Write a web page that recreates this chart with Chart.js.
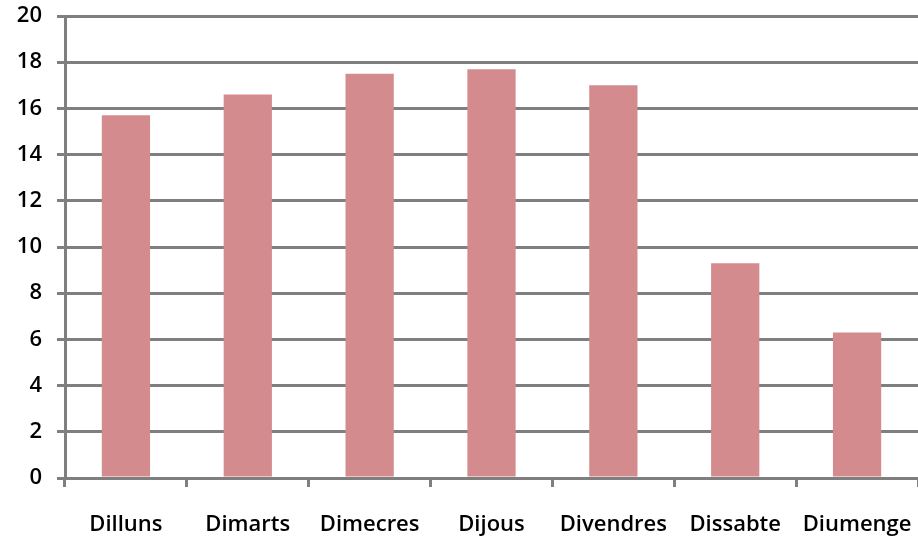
<!DOCTYPE html>
<html>
<head>
<meta charset="utf-8">
<script src="https://cdn.jsdelivr.net/npm/chart.js@4"></script>
<style>
  html, body { margin: 0; padding: 0; background: #fff; }
  #wrap { width: 918px; height: 542px; }
</style>
</head>
<body>
<div id="wrap"><canvas id="chart"></canvas></div>
<script>
const days = ["Dilluns", "Dimarts", "Dimecres", "Dijous", "Divendres", "Dissabte", "Diumenge"];
const values = [15.7, 16.6, 17.5, 17.7, 17.0, 9.3, 6.3];
const yTicks = [0, 2, 4, 6, 8, 10, 12, 14, 16, 18, 20];

const gray = "#7f7f7f";
const font = { family: "'Open Sans', 'Liberation Sans', sans-serif", size: 22, weight: "600" };

new Chart(document.getElementById("chart"), {
    type: "bar",
    data: {
        labels: days,
        datasets: [{
            data: values,
            backgroundColor: "#d48b8e",
            borderWidth: 0,
            barPercentage: 0.55,
            categoryPercentage: 0.72
        }]
    },
    options: {
        responsive: true,
        maintainAspectRatio: false,
        animation: false,
        layout: { padding: { top: 16, right: 0, left: 0, bottom: 0 } },
        plugins: { legend: { display: false }, tooltip: { enabled: false } },
        scales: {
            x: {
                grid: { drawOnChartArea: false, drawTicks: true, tickLength: 9, color: gray, lineWidth: 3, offset: true },
                border: { color: gray, width: 3 },
                ticks: { color: "#000", font: font, padding: 25, autoSkip: false, maxRotation: 0 },
                afterFit: s => { s.height = 64; s.paddingLeft = 0; s.paddingRight = 0; }
            },
            y: {
                min: 0,
                max: 20,
                afterBuildTicks: s => { s.ticks = yTicks.map(v => ({ value: v })); },
                grid: { color: gray, lineWidth: 3, tickLength: 8 },
                border: { color: gray, width: 3 },
                ticks: { color: "#000", font: font, padding: 15 },
                afterFit: s => { s.width = 65; s.paddingTop = 0; s.paddingBottom = 0; }
            }
        }
    }
});
</script>
</body>
</html>
